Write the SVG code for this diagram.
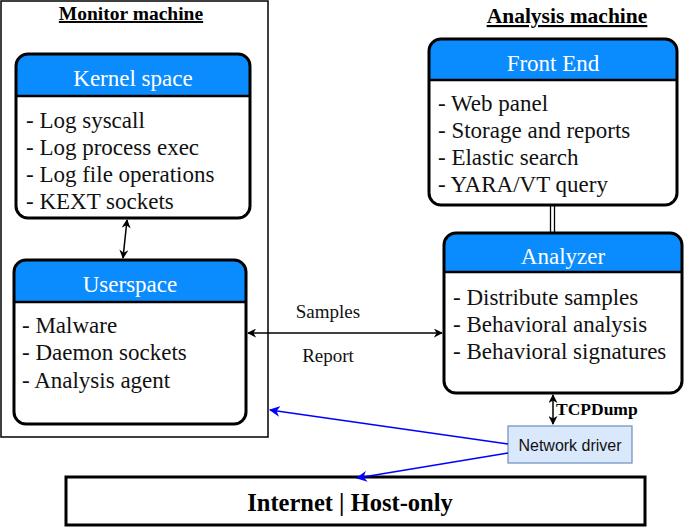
<svg xmlns="http://www.w3.org/2000/svg" width="685" height="527" viewBox="0 0 685 527">
<defs>
<style>
.frame{fill:#fff;stroke:#000;stroke-width:1.5}
.box{fill:none;stroke:#000;stroke-width:3}
.hdr{fill:#0a8cff}
.sep{stroke:#000;stroke-width:2.5}
.ht{font-family:"Liberation Serif",serif;font-size:23px;fill:#fff;text-anchor:middle}
.it{font-family:"Liberation Serif",serif;font-size:23px;fill:#111}
.ttl{font-family:"Liberation Serif",serif;font-weight:bold;text-anchor:middle;text-decoration:underline}
.lbl{font-family:"Liberation Serif",serif;font-size:19px;fill:#111;text-anchor:middle}
.blk{stroke:#000;stroke-width:1.5;fill:none}
.blu{stroke:#0000ff;stroke-width:1.5;fill:none}
</style>
<marker id="ah" viewBox="0 0 10 10" refX="9" refY="5" markerWidth="9" markerHeight="9" orient="auto-start-reverse" markerUnits="userSpaceOnUse"><path d="M0,0 L10,5 L0,10 L3,5 Z" fill="#000"/></marker>
<marker id="ab" viewBox="0 0 10 10" refX="9" refY="5" markerWidth="11" markerHeight="11" orient="auto" markerUnits="userSpaceOnUse"><path d="M0,0 L10,5 L0,10 L3,5 Z" fill="#0000ff"/></marker>
</defs>
<rect width="685" height="527" fill="#fff"/>

<g id="monitor-machine">
<rect class="frame" x="1" y="1" width="267" height="436"/>
<text class="ttl" x="131" y="20" font-size="19.5">Monitor machine </text>
</g>

<g id="analysis-title">
<text class="ttl" x="567" y="23" font-size="21.5">Analysis machine</text>
</g>

<g id="kernel-space">
<path class="hdr" d="M16,96 V66 Q16,54 28,54 H238 Q250,54 250,66 V96 Z"/>
<rect class="box" x="16" y="54" width="234" height="164" rx="12"/>
<line class="sep" x1="16" y1="96" x2="250" y2="96"/>
<text class="ht" x="133" y="86">Kernel space</text>
<text class="it" x="26" y="128">- Log syscall</text>
<text class="it" x="26" y="155">- Log process exec</text>
<text class="it" x="26" y="182">- Log file operations</text>
<text class="it" x="26" y="209">- KEXT sockets</text>
</g>

<g id="userspace">
<path class="hdr" d="M14,302 V272 Q14,260 26,260 H234 Q246,260 246,272 V302 Z"/>
<rect class="box" x="14" y="260" width="232" height="164" rx="12"/>
<line class="sep" x1="14" y1="302" x2="246" y2="302"/>
<text class="ht" x="130" y="292">Userspace</text>
<text class="it" x="22" y="333">- Malware</text>
<text class="it" x="22" y="360">- Daemon sockets</text>
<text class="it" x="22" y="388">- Analysis agent</text>
</g>

<g id="front-end">
<path class="hdr" d="M429,80 V51 Q429,39 441,39 H665 Q677,39 677,51 V80 Z"/>
<rect class="box" x="429" y="39" width="248" height="166" rx="12"/>
<line class="sep" x1="429" y1="80" x2="677" y2="80"/>
<text class="ht" x="553" y="71">Front End</text>
<text class="it" x="438" y="111">- Web panel</text>
<text class="it" x="438" y="138">- Storage and reports</text>
<text class="it" x="438" y="165">- Elastic search</text>
<text class="it" x="438" y="192">- YARA/VT query</text>
</g>

<g id="analyzer">
<path class="hdr" d="M444,272 V245 Q444,233 456,233 H670 Q682,233 682,245 V272 Z"/>
<rect class="box" x="444" y="233" width="238" height="160" rx="12"/>
<line class="sep" x1="444" y1="272" x2="682" y2="272"/>
<text class="ht" x="563" y="264">Analyzer</text>
<text class="it" x="453" y="305">- Distribute samples</text>
<text class="it" x="453" y="332">- Behavioral analysis</text>
<text class="it" x="453" y="359">- Behavioral signatures</text>
</g>

<g id="network-driver">
<rect x="508" y="426" width="124" height="37" fill="#dae8fc" stroke="#6c8ebf" stroke-width="1.2"/>
<text x="570" y="451" font-family="Liberation Sans, Arial, sans-serif" font-size="16" fill="#111" text-anchor="middle">Network driver</text>
</g>

<g id="internet">
<rect x="66" y="477" width="579" height="48" fill="#fff" stroke="#000" stroke-width="3"/>
<text x="350" y="511" font-family="Liberation Serif, serif" font-size="24.5" font-weight="bold" text-anchor="middle">Internet | Host-only</text>
</g>

<g id="connectors">
<line class="blk" x1="127" y1="220" x2="123" y2="258" marker-start="url(#ah)" marker-end="url(#ah)"/>
<line x1="550.5" y1="205" x2="550.5" y2="233" stroke="#000" stroke-width="1.3"/>
<line x1="554.5" y1="205" x2="554.5" y2="233" stroke="#000" stroke-width="1.3"/>
<line class="blk" x1="248" y1="333" x2="442" y2="333" marker-start="url(#ah)" marker-end="url(#ah)"/>
<text class="lbl" x="328" y="318">Samples</text>
<text class="lbl" x="328" y="362">Report</text>
<line class="blk" x1="553" y1="395" x2="553" y2="424" marker-start="url(#ah)" marker-end="url(#ah)"/>
<text x="556" y="415" font-family="Liberation Serif, serif" font-size="17.5" font-weight="bold">TCPDump</text>
<line class="blu" x1="508" y1="444" x2="270" y2="410" marker-end="url(#ab)"/>
<line class="blu" x1="508" y1="453" x2="357" y2="478" marker-end="url(#ab)"/>
</g>
</svg>
